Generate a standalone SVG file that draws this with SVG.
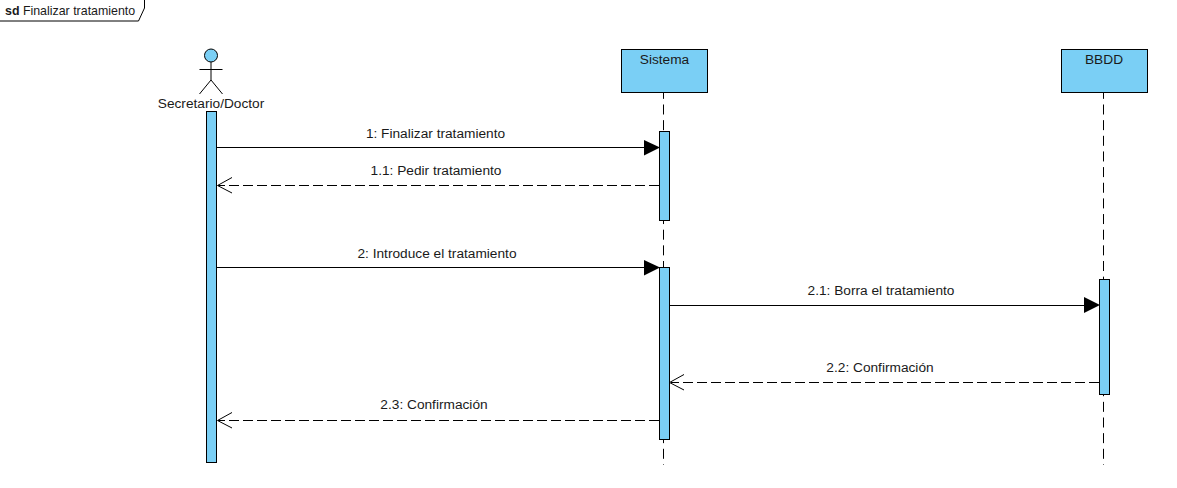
<svg xmlns="http://www.w3.org/2000/svg" width="1177" height="488" viewBox="0 0 1177 488">
<style>
text{font-family:"Liberation Sans",Arial,sans-serif;font-size:13.7px;fill:#1a1a1a;text-anchor:middle}
.f{fill:#7acff5;stroke:#000;stroke-width:1}
.l{stroke:#000;stroke-width:1;fill:none}
.d{stroke:#000;stroke-width:1;fill:none;stroke-dasharray:10 4}
.v{stroke:#000;stroke-width:1;fill:none;stroke-dasharray:10 5.65;stroke-dashoffset:3.65}
.a{fill:#000;stroke:none}
</style>
<rect width="1177" height="488" fill="#fff"/>
<g id="frame">
<path d="M-1,-1H144.500V8L138.500,21H-1Z" fill="#fff" stroke="#000"/>
<text x="5" y="15" style="text-anchor:start;font-size:12.4px"><tspan font-weight="bold">sd</tspan> Finalizar tratamiento</text>
</g>
<g id="lifelines">
<path class="v" d="M663.500,92.500V465"/>
<path class="v" d="M1103.500,92.500V465"/>
</g>
<g id="actor">
<circle class="f" cx="211" cy="55.500" r="6.500"/>
<path class="l" d="M211,62V80M199.500,69.500H222.500M199.500,94L211,80L222.500,94"/>
<text x="211" y="108">Secretario/Doctor</text>
</g>
<g id="sistema">
<rect class="f" x="621.500" y="49.500" width="86" height="43"/>
<text x="664.500" y="64">Sistema</text>
</g>
<g id="bbdd">
<rect class="f" x="1061.500" y="49.500" width="86" height="43"/>
<text x="1104" y="64">BBDD</text>
</g>
<g id="activations">
<rect class="f" x="206.500" y="111.500" width="10" height="351"/>
<rect class="f" x="659.500" y="131.500" width="10" height="89"/>
<rect class="f" x="659.500" y="267.500" width="10" height="172"/>
<rect class="f" x="1099.500" y="279.500" width="10" height="115"/>
</g>
<g id="connectors">
<path class="l" d="M217,147.500H645"/><path class="a" d="M644,140L660,147.500L644,155.500Z"/>
<path class="d" d="M659,185.500H218"/><path class="l" d="M232,177.500L217.500,185.500L232,193"/>
<path class="l" d="M217,267.500H645"/><path class="a" d="M644,260L660,267.500L644,275.500Z"/>
<path class="l" d="M670,305.500H1085"/><path class="a" d="M1084,297L1100,305L1084,313Z"/>
<path class="d" d="M1099,382.500H671"/><path class="l" d="M684,374.500L669.500,382.500L684,390"/>
<path class="d" d="M659,420.500H218"/><path class="l" d="M232,412.500L217.500,420.500L232,428"/>
</g>
<g id="labels">
<text x="435.500" y="138">1: Finalizar tratamiento</text>
<text x="436" y="175">1.1: Pedir tratamiento</text>
<text x="437" y="258">2: Introduce el tratamiento</text>
<text x="881" y="295">2.1: Borra el tratamiento</text>
<text x="880" y="372">2.2: Confirmación</text>
<text x="434" y="409">2.3: Confirmación</text>
</g>
</svg>
